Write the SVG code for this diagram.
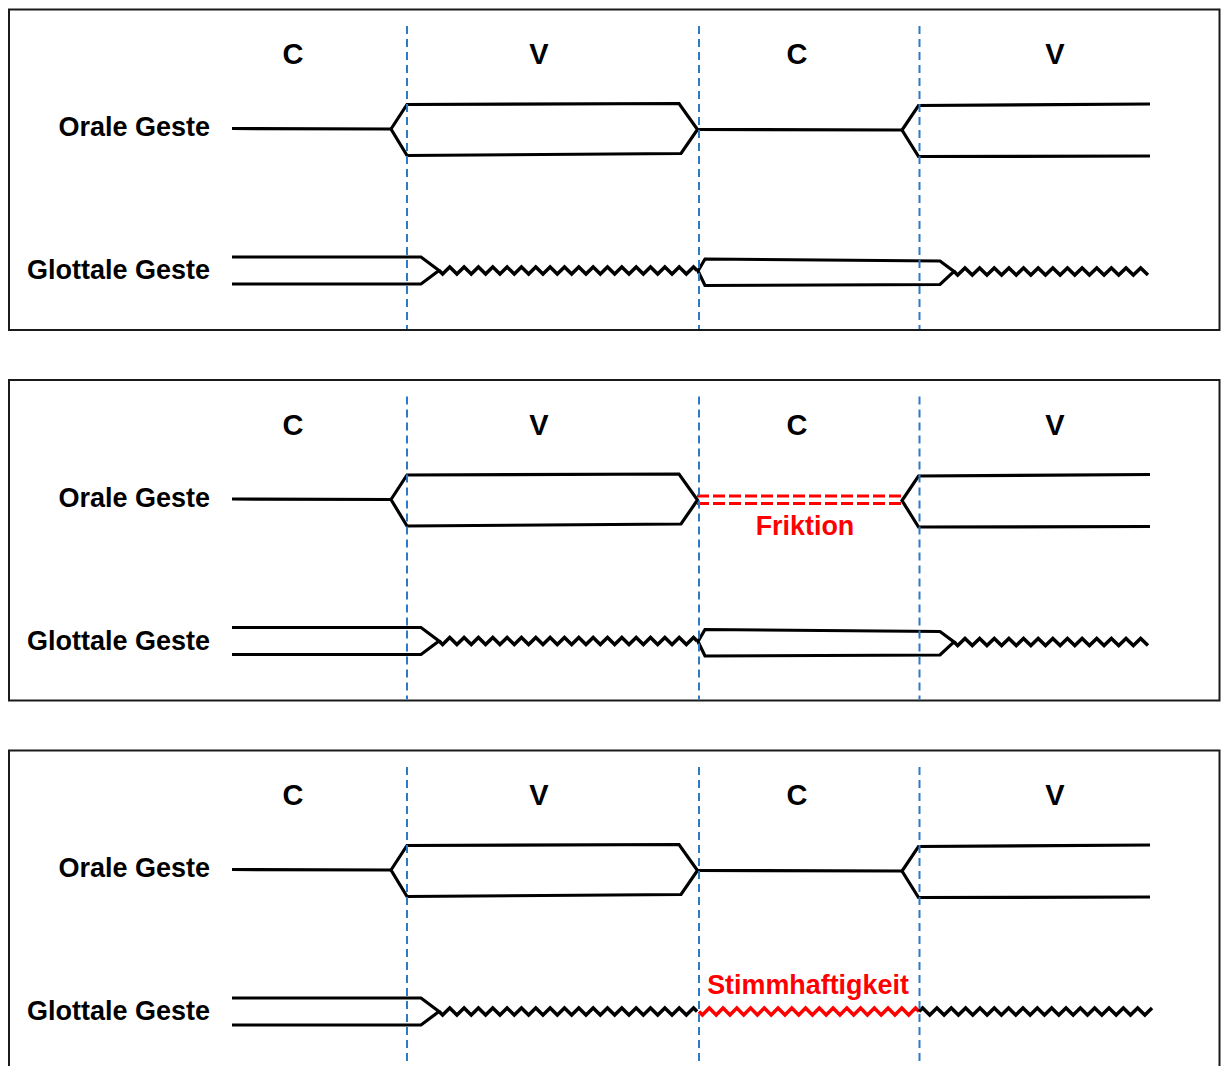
<svg xmlns="http://www.w3.org/2000/svg" width="1221" height="1066" viewBox="0 0 1221 1066">
  <style>
    .frame { fill: #fff; stroke: #1a1a1a; stroke-width: 2; }
    .seg { font-family: "Liberation Sans", Arial, sans-serif; font-weight: bold; font-size: 29px; fill: #000; text-anchor: middle; }
    .lbl { font-family: "Liberation Sans", Arial, sans-serif; font-weight: bold; font-size: 27px; fill: #000; text-anchor: end; }
    .note { font-family: "Liberation Sans", Arial, sans-serif; font-weight: bold; font-size: 26.9px; fill: #ff0000; text-anchor: middle; }
    .ges { fill: none; stroke: #000; stroke-width: 3.2; stroke-linejoin: miter; }
    .zig { fill: none; stroke: #000; stroke-width: 3.5; }
    .red { fill: none; stroke: #ff0000; stroke-width: 3.5; }
    .fric { fill: none; stroke: #ff0000; stroke-width: 3.2; stroke-dasharray: 12 4; }
    .bound { stroke: #2e7bc4; stroke-width: 2; stroke-dasharray: 8 5; }
  </style>
  <defs>
    <!-- vowel gesture on the oral tier -->
    <path id="vowelOral" d="M391,129 L407,104.5 L679,103.5 L697.5,129.5 L681,153.5 L407,155.5 Z"/>
    <!-- second vowel gesture, open to the right -->
    <path id="vowelOral2" d="M1150,104 L918.5,105.5 L902,130 L918.5,156.5 L1150,156"/>
    <!-- open-glottis gesture at the start -->
    <path id="glotOpen1" d="M232,257 L421,257 L439,270.5 L421,284 L232,284"/>
    <!-- open-glottis gesture for the second consonant -->
    <path id="glotOpen2" d="M698,271 L705,259 L940,261 L954,271.5 L940,284.5 L705,285.5 Z"/>
    <!-- voicing between the gestures -->
    <path id="voice1" d="M439,270.5 l3.58,3.5 l7.17,-7 l7.17,7 l7.17,-7 l7.17,7 l7.17,-7 l7.17,7 l7.17,-7 l7.17,7 l7.17,-7 l7.17,7 l7.17,-7 l7.17,7 l7.17,-7 l7.17,7 l7.17,-7 l7.17,7 l7.17,-7 l7.17,7 l7.17,-7 l7.17,7 l7.17,-7 l7.17,7 l7.17,-7 l7.17,7 l7.17,-7 l7.17,7 l7.17,-7 l7.17,7 l7.17,-7 l7.17,7 l7.17,-7 l7.17,7 l7.17,-7 l7.17,7 l7.17,-7 l3.58,3.5"/>
    <path id="voice2" d="M954,271.5 l3.66,3.5 l7.32,-7 l7.32,7 l7.32,-7 l7.32,7 l7.32,-7 l7.32,7 l7.32,-7 l7.32,7 l7.32,-7 l7.32,7 l7.32,-7 l7.32,7 l7.32,-7 l7.32,7 l7.32,-7 l7.32,7 l7.32,-7 l7.32,7 l7.32,-7 l7.32,7 l7.32,-7 l7.32,7 l7.32,-7 l7.32,7 l7.32,-7 l7.32,7"/>
    <g id="bounds">
      <line class="bound" x1="407" y1="26" x2="407" y2="329"/>
      <line class="bound" x1="699" y1="26" x2="699" y2="329"/>
      <line class="bound" x1="919.5" y1="26" x2="919.5" y2="329"/>
    </g>
    <g id="segs">
      <text class="seg" x="293" y="64">C</text>
      <text class="seg" x="539" y="64">V</text>
      <text class="seg" x="797" y="64">C</text>
      <text class="seg" x="1055" y="64">V</text>
    </g>
    <g id="tiers">
      <text class="lbl" x="210" y="136">Orale Geste</text>
      <text class="lbl" x="210" y="279">Glottale Geste</text>
    </g>
  </defs>

  <!-- panel 1: voiceless stop -->
  <g id="panel1">
    <rect class="frame" x="9" y="9.5" width="1210.5" height="320.5"/>
    <use href="#segs"/>
    <use href="#tiers"/>
    <g id="oral1">
      <line class="ges" x1="232" y1="128.5" x2="391" y2="129"/>
      <use href="#vowelOral" class="ges"/>
      <line class="ges" x1="697.5" y1="129.5" x2="902" y2="130"/>
      <use href="#vowelOral2" class="ges"/>
    </g>
    <g id="glottal1">
      <use href="#glotOpen1" class="ges"/>
      <use href="#voice1" class="zig"/>
      <use href="#glotOpen2" class="ges"/>
      <use href="#voice2" class="zig"/>
    </g>
    <use href="#bounds"/>
  </g>

  <!-- panel 2: voiceless fricative -->
  <g id="panel2" transform="translate(0,370.5)">
    <rect class="frame" x="9" y="9.5" width="1210.5" height="320.5"/>
    <use href="#segs"/>
    <use href="#tiers"/>
    <g id="oral2">
      <line class="ges" x1="232" y1="128.5" x2="391" y2="129"/>
      <use href="#vowelOral" class="ges"/>
      <use href="#vowelOral2" class="ges"/>
    </g>
    <g id="friction">
      <line class="fric" x1="697" y1="125.5" x2="903" y2="125.5"/>
      <line class="fric" x1="697" y1="133" x2="903" y2="133"/>
      <text class="note" x="805" y="164.5">Friktion</text>
    </g>
    <g id="glottal2">
      <use href="#glotOpen1" class="ges"/>
      <use href="#voice1" class="zig"/>
      <use href="#glotOpen2" class="ges"/>
      <use href="#voice2" class="zig"/>
    </g>
    <use href="#bounds"/>
  </g>

  <!-- panel 3: voiced stop -->
  <g id="panel3" transform="translate(0,741)">
    <rect class="frame" x="9" y="9.5" width="1210.5" height="340"/>
    <use href="#segs"/>
    <use href="#tiers"/>
    <g id="oral3">
      <line class="ges" x1="232" y1="128.5" x2="391" y2="129"/>
      <use href="#vowelOral" class="ges"/>
      <line class="ges" x1="697.5" y1="129.5" x2="902" y2="130"/>
      <use href="#vowelOral2" class="ges"/>
    </g>
    <g id="glottal3">
      <use href="#glotOpen1" class="ges"/>
      <use href="#voice1" class="zig"/>
      <path class="red" d="M699,270.5 l3.44,3.5 l6.875,-7 l6.875,7 l6.875,-7 l6.875,7 l6.875,-7 l6.875,7 l6.875,-7 l6.875,7 l6.875,-7 l6.875,7 l6.875,-7 l6.875,7 l6.875,-7 l6.875,7 l6.875,-7 l6.875,7 l6.875,-7 l6.875,7 l6.875,-7 l6.875,7 l6.875,-7 l6.875,7 l6.875,-7 l6.875,7 l6.875,-7 l6.875,7 l6.875,-7 l6.875,7 l6.875,-7 l6.875,7 l6.875,-7 l3.44,3.5"/>
      <path class="zig" d="M919,270.5 l3.58,-3.5 l7.17,7 l7.17,-7 l7.17,7 l7.17,-7 l7.17,7 l7.17,-7 l7.17,7 l7.17,-7 l7.17,7 l7.17,-7 l7.17,7 l7.17,-7 l7.17,7 l7.17,-7 l7.17,7 l7.17,-7 l7.17,7 l7.17,-7 l7.17,7 l7.17,-7 l7.17,7 l7.17,-7 l7.17,7 l7.17,-7 l7.17,7 l7.17,-7 l7.17,7 l7.17,-7 l7.17,7 l7.17,-7 l7.17,7 l7.17,-7"/>
      <text class="note" x="808" y="253">Stimmhaftigkeit</text>
    </g>
    <use href="#bounds"/>
  </g>
</svg>
